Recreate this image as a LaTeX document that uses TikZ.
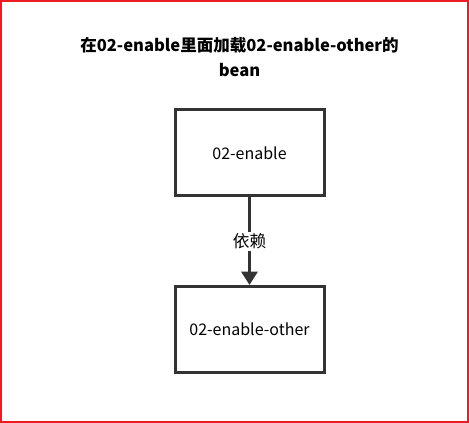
\documentclass[tikz,border=0pt]{standalone}
\usepackage{fontspec}
\setmainfont{Noto Sans CJK SC}
\usetikzlibrary{arrows.meta}
\definecolor{frame}{RGB}{237,28,36}
\definecolor{ink}{RGB}{51,51,51}
\tikzset{
  box/.style={draw=ink, line width=2.25pt, minimum width=111.75pt, minimum height=64.5pt, inner sep=0pt, font=\fontsize{12}{14}\selectfont},
  conn/.style={draw=ink, line width=2.25pt, -{Triangle[length=10pt,width=12pt]}},
  lbl/.style={fill=white, inner sep=1.5pt, font=\fontsize{12.5}{14}\selectfont},
  ttl/.style={align=center, font=\fontsize{12.4}{18.75}\selectfont\bfseries}
}
\begin{document}
\begin{tikzpicture}[x=0.75pt,y=-0.75pt]
\useasboundingbox (0,0) rectangle (469,423);
\draw[frame, line width=1.5pt] (1,1) rectangle (468,422);
\node[ttl] (title) at (239.5,57) {在02-enable里面加载02-enable-other的\\bean};
\node[box] (a) at (249.5,153) {02-enable};
\node[box] (b) at (249.5,329.5) {02-enable-other};
\draw[conn] (a.south) -- node[lbl] (l) {依赖} (b.north);
\end{tikzpicture}
\end{document}
